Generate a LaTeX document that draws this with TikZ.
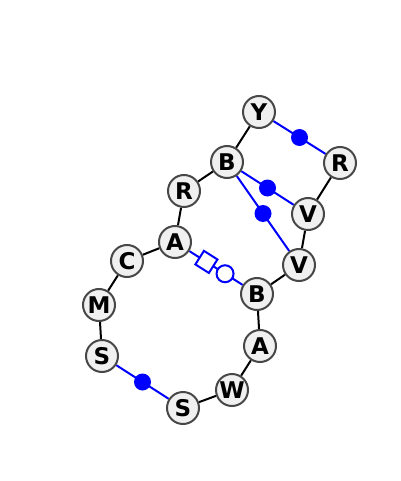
\documentclass[tikz,border=0pt]{standalone}
\usepackage{fontspec}
\setmainfont{DejaVu Sans}
\usetikzlibrary{backgrounds,calc}
\begin{document}
\begin{tikzpicture}[x=1pt,y=-1pt,
  res/.style={circle,draw=black!72,line width=2pt,fill=black!6,minimum size=32pt,inner sep=0pt,font=\bfseries\fontsize{23}{23}\selectfont},
  bb/.style={line width=2pt,draw=black},
  hb/.style={line width=2pt,draw=blue},
  dot/.style={circle,fill=blue,inner sep=0pt,minimum size=17pt},
  sq/.style={draw=blue,fill=white,line width=2pt,minimum size=16pt,inner sep=0pt},
  oc/.style={circle,draw=blue,fill=white,line width=2pt,minimum size=17pt,inner sep=0pt}]
\useasboundingbox (0,0) rectangle (400,481);
\node[res] (Y) at (259,112) {Y};
\node[res] (R1) at (340,163) {R};
\node[res] (B1) at (227,162) {B};
\node[res] (R2) at (184,191) {R};
\node[res] (V1) at (308,214) {V};
\node[res] (V2) at (299,265) {V};
\node[res] (A1) at (175,242) {A};
\node[res] (C) at (127,261) {C};
\node[res] (M) at (99,305) {M};
\node[res] (S1) at (102,356) {S};
\node[res] (S2) at (183,408) {S};
\node[res] (W) at (232,390) {W};
\node[res] (A2) at (260,346) {A};
\node[res] (B2) at (257,294) {B};
\begin{scope}[on background layer]
\draw[bb] (Y) -- (B1);
\draw[bb] (B1) -- (R2);
\draw[bb] (R2) -- (A1);
\draw[bb] (A1) -- (C);
\draw[bb] (C) -- (M);
\draw[bb] (M) -- (S1);
\draw[bb] (S2) -- (W);
\draw[bb] (W) -- (A2);
\draw[bb] (A2) -- (B2);
\draw[bb] (B2) -- (V2);
\draw[bb] (V2) -- (V1);
\draw[bb] (V1) -- (R1);
\draw[hb] (Y) -- node[dot] {} (R1);
\draw[hb] (B1) -- node[dot] {} (V1);
\draw[hb] (B1) -- node[dot] {} (V2);
\draw[hb] (S1) -- node[dot] {} (S2);
\draw[hb] (A1) -- node[sq,pos=0.32,sloped] {} node[oc,pos=0.67] {} (B2);
\end{scope}
\end{tikzpicture}
\end{document}
